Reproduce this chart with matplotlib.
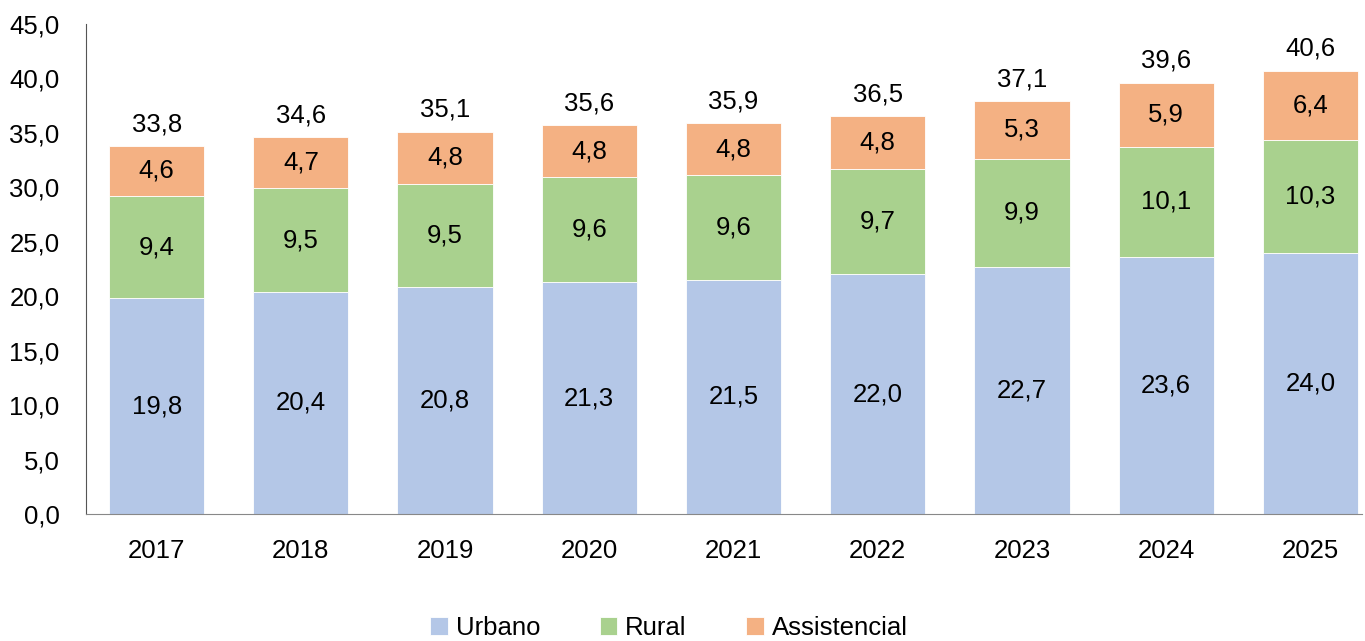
import matplotlib.pyplot as plt
import numpy as np

# data
anos = ['2017', '2018', '2019', '2020', '2021', '2022', '2023', '2024', '2025']
urbano = [19.8, 20.4, 20.8, 21.3, 21.5, 22.0, 22.7, 23.6, 24.0]
rural = [9.4, 9.5, 9.5, 9.6, 9.6, 9.7, 9.9, 10.1, 10.3]
assistencial = [4.6, 4.7, 4.8, 4.8, 4.8, 4.8, 5.3, 5.9, 6.4]
total = [33.8, 34.6, 35.1, 35.6, 35.9, 36.5, 37.1, 39.6, 40.6]

plt.rcParams['font.family'] = ['Liberation Sans Narrow', 'Liberation Sans', 'DejaVu Sans']

def fmt(v):
    return ('%.1f' % v).replace('.', ',')

fs = 18.5

fig = plt.figure(figsize=(13.65, 6.41), dpi=100)
ax = fig.add_axes([0.063, 0.198, 0.935, 0.765])

x = np.arange(len(anos))
w = 0.66
series = [('Urbano', urbano, '#B4C7E7'),
          ('Rural', rural, '#A9D18E'),
          ('Assistencial', assistencial, '#F4B183')]

bottom = np.zeros(len(anos))
for name, vals, color in series:
    vals = np.array(vals)
    ax.bar(x, vals, w, bottom=bottom, color=color, label=name,
           edgecolor='white', linewidth=0.6)
    for xi, b, v in zip(x, bottom, vals):
        ax.text(xi, b + v / 2, fmt(v), ha='center', va='center', fontsize=fs)
    bottom = bottom + vals

for xi, b, t in zip(x, bottom, total):
    ax.annotate(fmt(t), (xi, b), xytext=(0, 7), textcoords='offset points',
                ha='center', va='bottom', fontsize=fs)

ax.set_ylim(0, 45)
ax.set_yticks(np.arange(0, 46, 5))
ax.set_yticklabels([fmt(v) for v in np.arange(0, 46, 5)])
ax.set_xlim(-0.49, 8.36)
ax.set_xticks(x)
ax.set_xticklabels(anos)
ax.tick_params(axis='both', length=0, labelsize=fs)
ax.tick_params(axis='y', pad=19)
ax.tick_params(axis='x', pad=18)
for s in ['top', 'right']:
    ax.spines[s].set_visible(False)
ax.spines['left'].set_color('#555555')
ax.spines['bottom'].set_color('#888888')

fig.legend(loc='lower center', ncol=3, frameon=False, fontsize=fs,
           bbox_to_anchor=(0.49, -0.035), handlelength=0.7, handleheight=0.7,
           columnspacing=2.3, handletextpad=0.3)

fig.savefig('out.png', dpi=100)
